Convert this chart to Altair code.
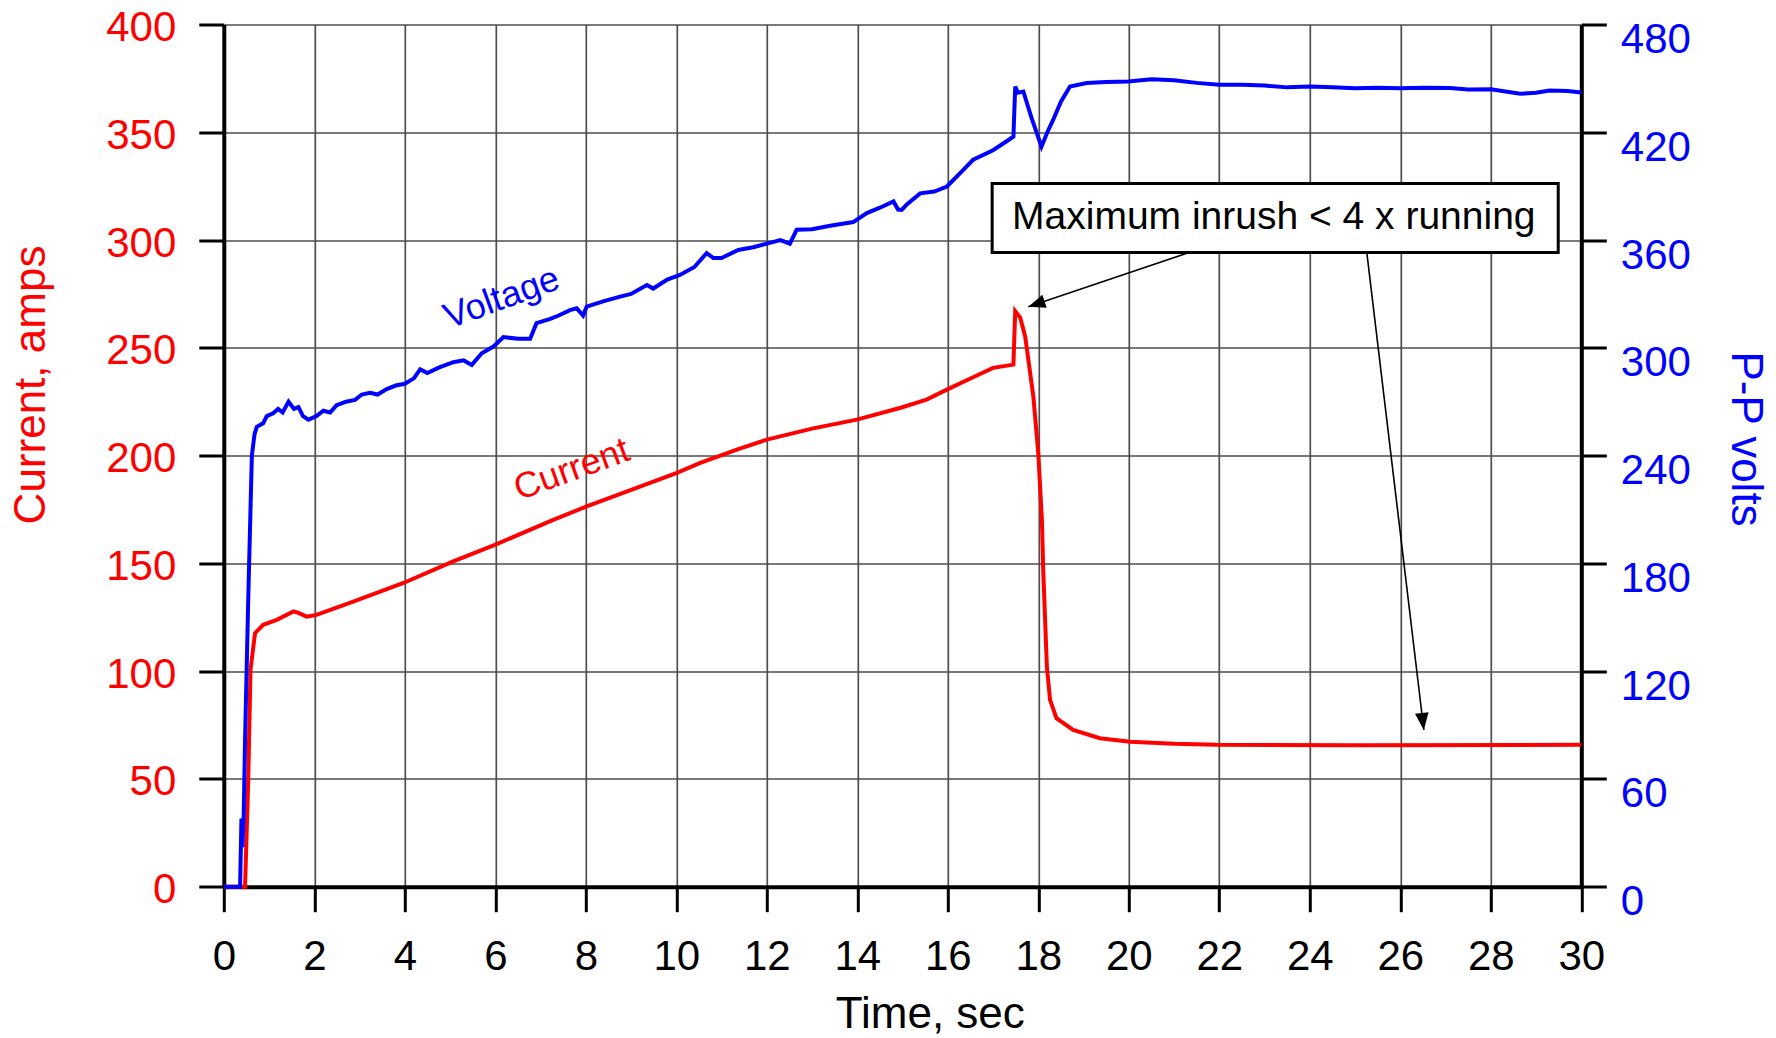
import altair as alt
import pandas as pd

# ---------------- data ----------------
time_current = [0.0, 0.47, 0.54, 0.59, 0.69, 0.87, 1.17, 1.54, 1.65, 1.83, 2.05, 2.86,
                3.97, 5.07, 5.99, 7.28, 8.02, 10.0, 10.53, 11.37, 12.0, 13.0, 13.99,
                14.94, 15.53, 15.98, 16.5, 17.0, 17.45, 17.49, 17.6, 17.71, 17.89, 18.0,
                18.08, 18.11, 18.19, 18.26, 18.4, 18.77, 19.36, 20.03, 21.0, 21.94,
                25.0, 30.0]
current_amps = [0.0, 0.0, 49.5, 100.6, 117.6, 121.5, 123.8, 127.7, 127.0, 125.3, 126.1, 132.3,
                140.9, 150.9, 158.6, 170.2, 176.4, 191.9, 196.6, 203.0, 207.4, 212.5, 216.7,
                222.1, 226.0, 230.6, 235.8, 240.7, 242.2, 267.0, 264.0, 255.3, 227.5, 201.0,
                170.0, 146.0, 102.0, 86.7, 78.2, 72.7, 68.9, 67.3, 66.3, 65.8,
                65.6, 65.8]

time_voltage = [0.0, 0.36, 0.39, 0.41, 0.44, 0.47, 0.54, 0.62, 0.68, 0.73, 0.87, 0.95,
                1.09, 1.2, 1.3, 1.43, 1.55, 1.65, 1.75, 1.87, 2.05, 2.2, 2.35, 2.49, 2.7,
                2.9, 3.05, 3.23, 3.4, 3.6, 3.8, 4.0, 4.2, 4.34, 4.5, 4.75, 5.07, 5.3,
                5.48, 5.7, 5.96, 6.18, 6.5, 6.77, 6.91, 7.2, 7.4, 7.65, 7.8, 7.94, 8.02,
                8.4, 8.76, 9.0, 9.35, 9.49, 9.8, 10.08, 10.4, 10.67, 10.82, 11.0, 11.37,
                11.7, 12.0, 12.3, 12.51, 12.66, 13.0, 13.4, 13.91, 14.21, 14.5, 14.8,
                14.9, 14.98, 15.1, 15.39, 15.7, 15.98, 16.3, 16.56, 17.0, 17.3, 17.45,
                17.49, 17.55, 17.67, 17.85, 18.07, 18.2, 18.33, 18.5, 18.7, 19.07, 19.5,
                19.99, 20.5, 21.0, 21.5, 22.0, 22.5, 23.0, 23.5, 24.0, 24.5, 25.0, 25.5,
                26.0, 26.5, 27.1, 27.5, 28.0, 28.65, 29.0, 29.3, 29.7, 30.0]
voltage_pp = [0.0, 0.0, 38.0, 22.0, 40.0, 82.0, 160.0, 240.0, 252.0, 256.0, 258.0, 262.0,
              263.6, 266.0, 264.0, 270.0, 266.0, 267.0, 262.0, 260.0, 262.0, 265.0, 264.0,
              268.0, 270.0, 271.0, 274.0, 275.0, 274.0, 277.0, 279.0, 280.0, 283.0, 288.0,
              286.0, 289.0, 292.0, 293.0, 290.5, 297.0, 300.7, 306.0, 305.0, 305.0, 313.7,
              316.0, 318.0, 321.0, 322.0, 318.0, 323.0, 326.0, 328.5, 330.0, 335.0, 333.0,
              338.0, 340.6, 345.0, 352.7, 350.0, 350.0, 354.5, 356.0, 358.0, 360.0, 358.0,
              365.7, 366.0, 368.0, 370.0, 375.0, 378.0, 381.5, 377.0, 376.8, 380.0, 386.0,
              387.0, 389.8, 398.0, 404.7, 410.0, 415.0, 417.6, 445.5, 442.0, 442.7, 428.0,
              412.0, 420.0, 427.0, 437.0, 445.5, 447.4, 448.0, 448.3, 449.5, 449.0, 447.5,
              446.4, 446.5, 446.0, 445.0, 445.5, 445.0, 444.5, 444.8, 444.5, 444.8, 444.6,
              443.8, 444.0, 441.4, 442.0, 443.3, 443.0, 442.2]

x_ticks = list(range(0, 31, 2))
amp_ticks = list(range(0, 401, 50))
volt_ticks = list(range(0, 481, 60))

# annotations (data coordinates)
note_text = ["Maximum inrush < 4 x running"]
note_box_time = [16.98, 29.49]
note_box_amps = [294.2, 326.2]
note_text_time = [17.42]
note_text_amps = [310.7]
arrow_start_time = [21.33, 25.26]
arrow_start_amps = [294.2, 294.2]
arrow_tip_time = [17.78, 26.52]
arrow_tip_amps = [269.1, 72.7]

label_current = ["Current"]
label_current_pos = [7.69, 193.5]
label_voltage = ["Voltage"]
label_voltage_pos = [6.14, 327.7]

# ---------------- tables ----------------
cur_df = pd.DataFrame({"t": time_current, "amps": current_amps})
volt_df = pd.DataFrame({"t": time_voltage, "volts": voltage_pp})
box_df = pd.DataFrame({"x1": [note_box_time[0]], "x2": [note_box_time[1]],
                       "y1": [note_box_amps[0]], "y2": [note_box_amps[1]]})
note_df = pd.DataFrame({"t": note_text_time, "amps": note_text_amps, "txt": note_text})
arrow_df = pd.DataFrame({"x1": arrow_start_time, "y1": arrow_start_amps,
                         "x2": arrow_tip_time, "y2": arrow_tip_amps})
tip1_df = pd.DataFrame({"t": [arrow_tip_time[0]], "amps": [arrow_tip_amps[0]]})
tip2_df = pd.DataFrame({"t": [arrow_tip_time[1]], "amps": [arrow_tip_amps[1]]})
lab_c_df = pd.DataFrame({"t": [label_current_pos[0]], "amps": [label_current_pos[1]],
                         "txt": label_current})
lab_v_df = pd.DataFrame({"t": [label_voltage_pos[0]], "volts": [label_voltage_pos[1]],
                         "txt": label_voltage})

FONT = "Liberation Sans"
xscale = alt.Scale(domain=[0, 30], nice=False, zero=False)
amp_scale = alt.Scale(domain=[0, 400], nice=False)
volt_scale = alt.Scale(domain=[0, 480], nice=False)

x_axis = alt.Axis(values=x_ticks, title="Time, sec", grid=True, orient="bottom",
                  labelColor="black", titleColor="black", labelPadding=25,
                  titleX=706, titleY=128, titleAlign="center", titleBaseline="middle")
left_axis = alt.Axis(values=amp_ticks, title="Current, amps", grid=True, orient="left",
                     labelColor="#ff0000", titleColor="#ff0000", labelPadding=23,
                     labelOffset=3, titleX=-192, titleY=360, titleAngle=270,
                     titleAlign="center", titleBaseline="middle")
right_axis = alt.Axis(values=volt_ticks, title="P-P volts", grid=False, orient="right",
                      labelColor="#0000ff", titleColor="#0000ff", labelPadding=14,
                      labelOffset=15, titleX=163, titleY=414, titleAngle=90,
                      titleAlign="center", titleBaseline="middle")


def Xs(f):
    # every layer carries the identical x axis so the shared axis merges cleanly
    return alt.X(f, type="quantitative", scale=xscale, axis=x_axis)


def Yc(f):
    return alt.Y(f, type="quantitative", scale=amp_scale, axis=None)


current_line = alt.Chart(cur_df).mark_line(color="#ff0000", strokeWidth=4).encode(
    x=Xs("t"),
    y=alt.Y("amps", type="quantitative", scale=amp_scale, axis=left_axis))

voltage_line = alt.Chart(volt_df).mark_line(color="#0000ff", strokeWidth=4).encode(
    x=Xs("t"),
    y=alt.Y("volts", type="quantitative", scale=volt_scale, axis=right_axis))

current_label = alt.Chart(lab_c_df).mark_text(
    color="#ff0000", font=FONT, fontSize=36, angle=340, align="center",
    baseline="middle").encode(x=Xs("t"), y=Yc("amps"), text="txt:N")

voltage_label = alt.Chart(lab_v_df).mark_text(
    color="#0000ff", font=FONT, fontSize=36, angle=340, align="center",
    baseline="middle").encode(
    x=Xs("t"), y=alt.Y("volts", type="quantitative", scale=volt_scale, axis=None),
    text="txt:N")

box = alt.Chart(box_df).mark_rect(fill="white", stroke="black", strokeWidth=3).encode(
    x=Xs("x1"), x2="x2", y=Yc("y1"), y2="y2")

note = alt.Chart(note_df).mark_text(
    color="black", font=FONT, fontSize=39, align="left", baseline="middle").encode(
    x=Xs("t"), y=Yc("amps"), text="txt:N")

arrows = alt.Chart(arrow_df).mark_rule(color="black", strokeWidth=1.6).encode(
    x=Xs("x1"), x2="x2", y=Yc("y1"), y2="y2")

head_shape = "M0,0L-1.2,3L1.2,3Z"
tip1 = alt.Chart(tip1_df).mark_point(shape=head_shape, size=130, filled=True,
                                     color="black", opacity=1, angle=251.4).encode(
    x=Xs("t"), y=Yc("amps"))
tip2 = alt.Chart(tip2_df).mark_point(shape=head_shape, size=130, filled=True,
                                     color="black", opacity=1, angle=173.2).encode(
    x=Xs("t"), y=Yc("amps"))

chart = alt.layer(
    current_line, voltage_line, current_label, voltage_label, box, note, arrows, tip1, tip2
).resolve_scale(y="independent").properties(
    width=1357.5, height=862.2,
    autosize=alt.AutoSizeParams(type="none"),
    padding={"left": 223.8, "top": 24.5, "right": 194.7, "bottom": 151.3},
    background="white",
).configure_view(strokeWidth=0).configure_axis(
    domainColor="black", domainWidth=4, tickColor="black", tickWidth=3, tickSize=25,
    labelFont=FONT, labelFontSize=42, titleFont=FONT, titleFontSize=44,
    titleFontWeight="normal", gridColor="#4d4d4d", gridWidth=1.7,
    labelFlush=False, labelOverlap=False,
)

chart.save("out.html", embed_options={"renderer": "svg", "actions": False})
